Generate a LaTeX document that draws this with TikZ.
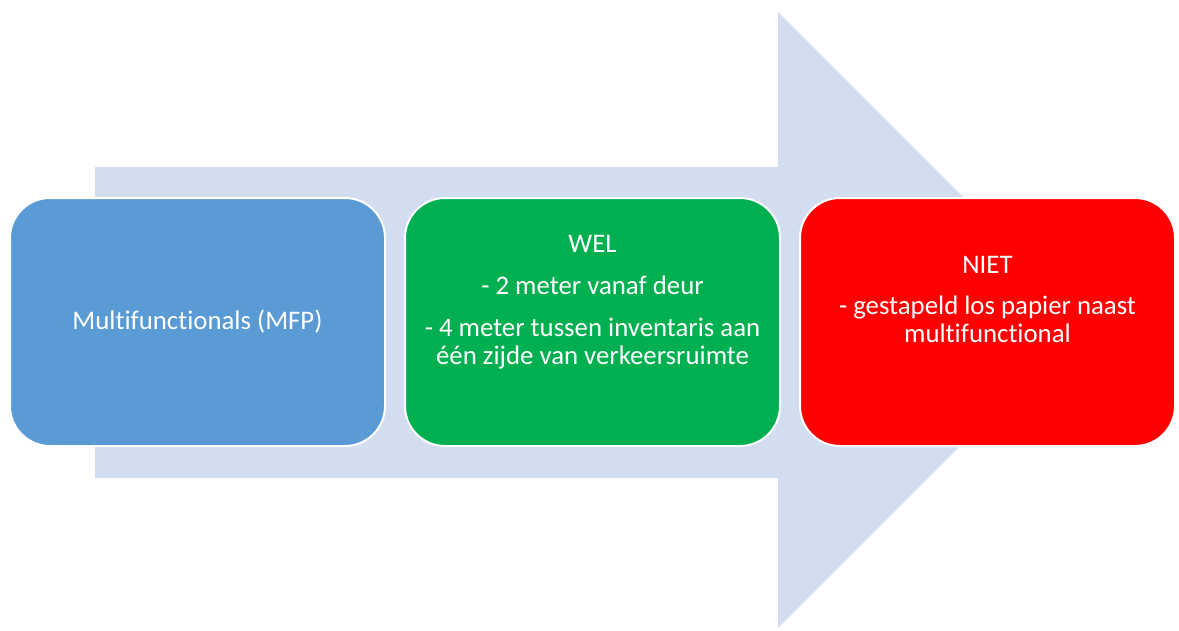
\documentclass[tikz,border=0pt]{standalone}
\usepackage{fontspec}
\setmainfont{Carlito}[Ligatures=NoCommon]
\usetikzlibrary{calc,positioning}

\begin{document}
\begin{tikzpicture}[
            x=1pt,y=-1pt,
            node distance=18pt
        ]
            \colorlet{arx}{rgb,255:red,210;green,222;blue,239}
            \colorlet{blx}{rgb,255:red,91;green,155;blue,213}
            \colorlet{grx}{rgb,255:red,0;green,176;blue,80}
            \colorlet{rdx}{rgb,255:red,255;green,0;blue,0}

            \useasboundingbox (0,0) rectangle (1179,630);

            % big arrow behind the boxes
            \fill [arx] (95,167) -- (778,167) -- (778,12) -- (1086,320)
                        -- (778,628) -- (778,478) -- (95,478) -- cycle;

            \begin{scope}[
                every node/.style={draw=white,line width=2pt,rounded corners=40pt,
                                   minimum width=375pt,minimum height=248pt,
                                   text=white,font=\fontsize{26.8}{28}\selectfont}
            ]
                \node (mfp) at (197.5,322) [fill=blx]     {Multifunctionals (MFP)};
                \node (wel)  [right=of mfp,fill=grx] {};
                \node (niet) [right=of wel,fill=rdx] {};
            \end{scope}

            \begin{scope}[
                every node/.style={text=white,align=center,anchor=base,
                                   font=\fontsize{26.8}{28}\selectfont}
            ]
                \node (weltxt)  at ($(wel.north)+(0,167)$)
                    {WEL\\[14pt]- 2 meter vanaf deur\\[14pt]- 4 meter tussen inventaris aan\\één zijde van verkeersruimte};
                \node (niettxt) at ($(niet.north)+(0,145)$)
                    {NIET\\[13pt]- gestapeld los papier naast\\multifunctional};
            \end{scope}
        \end{tikzpicture}
\end{document}
